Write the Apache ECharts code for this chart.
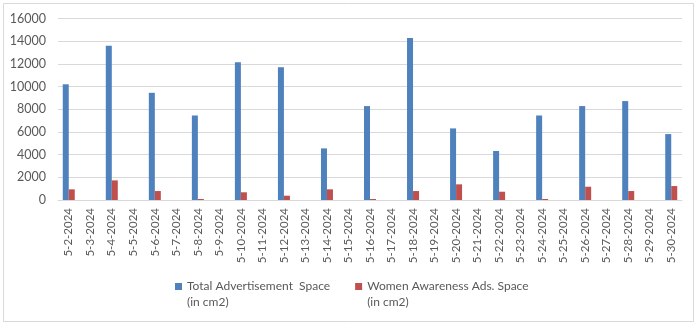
<!DOCTYPE html>
<html>
<head>
<meta charset="utf-8">
<script src="https://cdn.jsdelivr.net/npm/echarts@6/dist/echarts.min.js"></script>
<style>
html,body{margin:0;padding:0;background:#fff;}
#chart{width:700px;height:325px;}
</style>
</head>
<body>
<div id="chart"></div>
<script>
const categories = ["5-2-2024","5-3-2024","5-4-2024","5-5-2024","5-6-2024","5-7-2024","5-8-2024","5-9-2024","5-10-2024","5-11-2024","5-12-2024","5-13-2024","5-14-2024","5-15-2024","5-16-2024","5-17-2024","5-18-2024","5-19-2024","5-20-2024","5-21-2024","5-22-2024","5-23-2024","5-24-2024","5-25-2024","5-26-2024","5-27-2024","5-28-2024","5-29-2024","5-30-2024"];
const totalSpace = [10200,null,13600,null,9450,null,7450,null,12150,null,11700,null,4550,null,8280,null,14270,null,6310,null,4320,null,7450,null,8280,null,8720,null,5810];
const womenSpace = [940,null,1730,null,790,null,90,null,680,null,380,null,940,null,90,null,790,null,1380,null,730,null,90,null,1170,null,790,null,1230];
const seriesNames = ["Total Advertisement  Space\n(in cm2)", "Women Awareness Ads. Space\n(in cm2)"];
const yTicks = {min: 0, max: 16000, interval: 2000};

const FONT = "Lato, 'Open Sans', sans-serif";
const chart = echarts.init(document.getElementById('chart'), null, {renderer: 'canvas'});
chart.setOption({
  animation: false,
  backgroundColor: '#ffffff',
  graphic: [{
    type: 'rect', silent: true,
    shape: {x: 3.5, y: 3.5, width: 690, height: 318},
    style: {fill: 'none', stroke: '#d9d9d9', lineWidth: 1}
  }],
  grid: {left: 58, right: 18, top: 18.5, bottom: 125, containLabel: false},
  xAxis: {
    type: 'category',
    data: categories,
    axisLine: {show: true, lineStyle: {color: '#d9d9d9', width: 1}},
    axisTick: {show: false},
    axisLabel: {rotate: 90, interval: 0, margin: 8, color: '#595959', fontSize: 11.5, fontFamily: FONT}
  },
  yAxis: {
    type: 'value',
    min: yTicks.min, max: yTicks.max, interval: yTicks.interval,
    axisLine: {show: false},
    axisTick: {show: false},
    splitLine: {lineStyle: {color: '#d9d9d9', width: 1}},
    axisLabel: {margin: 12, color: '#595959', fontSize: 12.5, fontFamily: FONT,
      formatter: v => String(v)}
  },
  legend: {
    left: 175, top: 278, padding: 0,
    itemWidth: 7, itemHeight: 22, itemGap: 25,
    icon: 'path://M0,0H7V7H0Z M0,21.99H0.01V22H0Z',
    textStyle: {color: '#595959', fontSize: 12, fontFamily: FONT, lineHeight: 16},
    data: seriesNames
  },
  series: [
    {name: seriesNames[0], type: 'bar', data: totalSpace, barWidth: 6, barGap: '0%',
     itemStyle: {color: '#4f81bd'}},
    {name: seriesNames[1], type: 'bar', data: womenSpace, barWidth: 6, barGap: '0%',
     itemStyle: {color: '#c0504d'}}
  ]
});
</script>
</body>
</html>
